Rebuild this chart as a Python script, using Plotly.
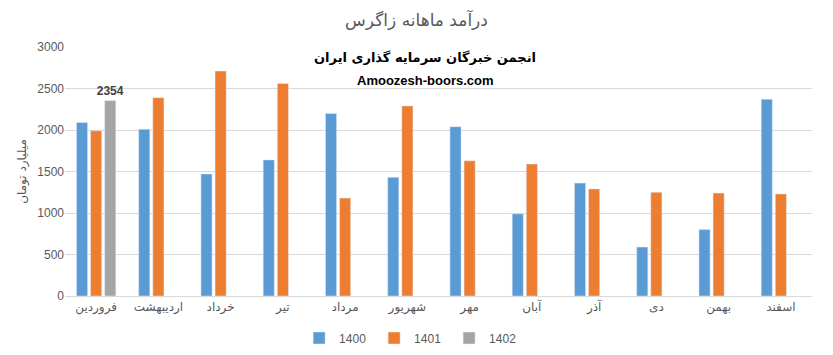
import plotly.graph_objects as go

months = ["فروردین", "اردیبهشت", "خرداد", "تیر", "مرداد", "شهریور",
          "مهر", "آبان", "آذر", "دی", "بهمن", "اسفند"]
v1400 = [2090, 2010, 1470, 1640, 2200, 1430, 2040, 990, 1360, 590, 800, 2370]
v1401 = [1990, 2390, 2710, 2560, 1180, 2290, 1630, 1590, 1290, 1250, 1240, 1230]
v1402 = [2354, None, None, None, None, None, None, None, None, None, None, None]
v1402_text = ["<b>2354</b>"] + [""] * 11

font_fam = "Liberation Sans, DejaVu Sans, sans-serif"
fig = go.Figure()
fig.add_trace(go.Bar(name="1400", x=months, y=v1400, marker_color="#5B9BD5"))
fig.add_trace(go.Bar(name="1401", x=months, y=v1401, marker_color="#ED7D31"))
fig.add_trace(go.Bar(name="1402", x=months, y=v1402, marker_color="#A5A5A5",
                     text=v1402_text, textposition="outside", cliponaxis=False,
                     constraintext="none",
                     textfont=dict(color="#404040", size=12, family=font_fam)))

fig.update_layout(
    width=833, height=355,
    margin=dict(l=65, r=21, t=47, b=59, autoexpand=False),
    paper_bgcolor="white", plot_bgcolor="white",
    barmode="group", bargap=0.32, bargroupgap=0.21,
    font=dict(family=font_fam, color="#595959", size=12),
    title=dict(text="درآمد ماهانه زاگرس", x=0.5, xanchor="center",
               y=1 - 20 / 355, yanchor="middle",
               font=dict(size=17, color="#595959", family="DejaVu Sans, sans-serif")),
    xaxis=dict(showgrid=False, showline=True, linecolor="#D9D9D9", linewidth=1,
               ticks="", tickfont=dict(size=12, color="#595959", family="DejaVu Sans, sans-serif")),
    yaxis=dict(range=[0, 3000], dtick=500, showgrid=True, gridcolor="#D9D9D9",
               zeroline=False, showline=False, ticks="",
               tickfont=dict(size=12, color="#595959"),
               title=dict(text="میلیارد تومان", standoff=8,
                          font=dict(size=12, color="#595959", family="DejaVu Sans, sans-serif"))),
    legend=dict(orientation="h", x=0.464, xanchor="center", xref="paper",
                yref="container", y=1 - 338 / 355, yanchor="middle",
                font=dict(size=12, color="#595959"), itemwidth=30, entrywidth=30,
                traceorder="normal"),
    showlegend=True,
    annotations=[
        dict(text="<b>انجمن خبرگان سرمایه گذاری ایران</b>", xref="paper", yref="paper",
             x=0.482, y=0.956, xanchor="center", yanchor="middle", showarrow=False,
             font=dict(size=13, color="black", family="DejaVu Sans, sans-serif")),
        dict(text="<b>Amoozesh-boors.com</b>", xref="paper", yref="paper",
             x=0.482, y=0.867, xanchor="center", yanchor="middle", showarrow=False,
             font=dict(size=13, color="black", family=font_fam)),
    ],
)
fig.write_html("out.html")
